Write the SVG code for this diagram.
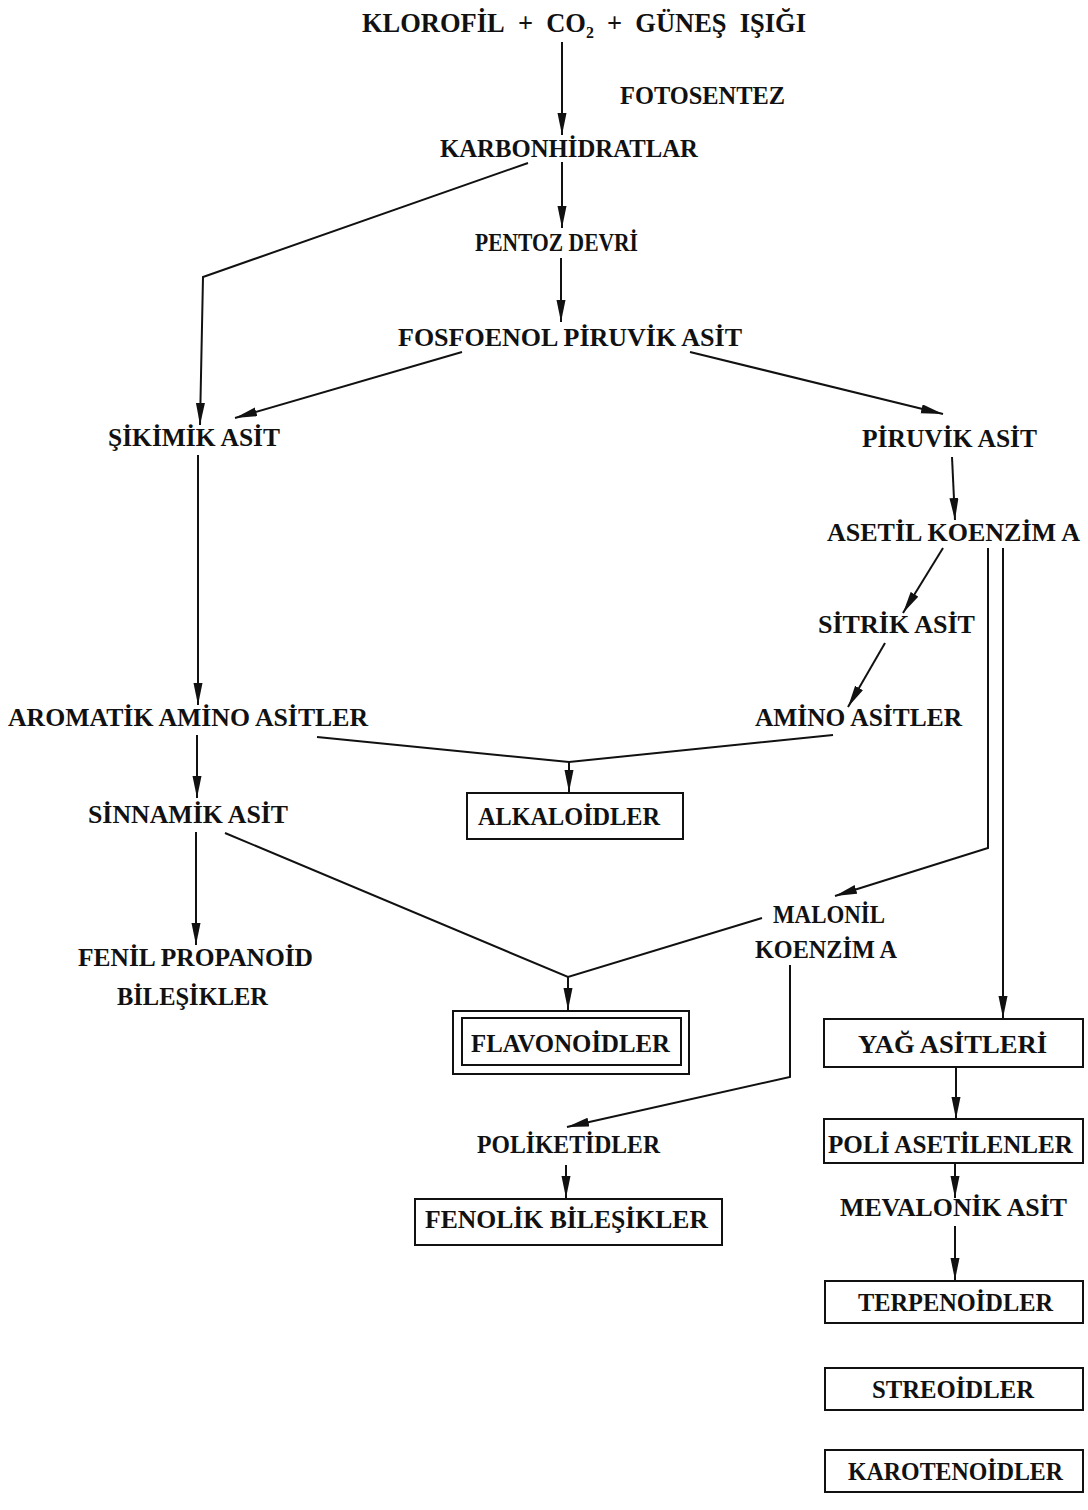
<svg xmlns="http://www.w3.org/2000/svg" width="1088" height="1510" viewBox="0 0 1088 1510">
<style>
.t{font-family:"Liberation Serif","DejaVu Serif",serif;font-weight:bold;font-size:26px;fill:#111}
.h{font-size:28px}
.box{fill:#fff;stroke:#111;stroke-width:2}
.c{fill:none;stroke:#111;stroke-width:2}
</style>
<defs>
<marker id="ar" markerUnits="userSpaceOnUse" markerWidth="24" markerHeight="10" refX="22" refY="4.5" orient="auto">
<path d="M0,0 L22,4.5 L0,9 Z" fill="#111"/>
</marker>
</defs>
<rect width="1088" height="1510" fill="#fff"/>
<g id="connectors">
<path class="c" d="M562,42 V135" marker-end="url(#ar)"/>
<path class="c" d="M562,162 V228" marker-end="url(#ar)"/>
<path class="c" d="M561,258 V322" marker-end="url(#ar)"/>
<path class="c" d="M528,163 L203,277 L200,425" marker-end="url(#ar)"/>
<path class="c" d="M462,352 L235,418" marker-end="url(#ar)"/>
<path class="c" d="M690,352 L943,414" marker-end="url(#ar)"/>
<path class="c" d="M952,457 L955,520" marker-end="url(#ar)"/>
<path class="c" d="M943,548 L903,613" marker-end="url(#ar)"/>
<path class="c" d="M885,643 L848,707" marker-end="url(#ar)"/>
<path class="c" d="M198,455 L198,705" marker-end="url(#ar)"/>
<path class="c" d="M197,735 L197,798" marker-end="url(#ar)"/>
<path class="c" d="M196,832 L196,945" marker-end="url(#ar)"/>
<path class="c" d="M317,737 L569,762 L833,735"/>
<path class="c" d="M569,762 V792" marker-end="url(#ar)"/>
<path class="c" d="M225,833 L568,977 L762,918"/>
<path class="c" d="M568,977 V1010" marker-end="url(#ar)"/>
<path class="c" d="M988,548 L988,848 L835,896" marker-end="url(#ar)"/>
<path class="c" d="M1003,548 L1003,1018" marker-end="url(#ar)"/>
<path class="c" d="M790,965 L790,1077 L567,1127" marker-end="url(#ar)"/>
<path class="c" d="M566,1165 V1198" marker-end="url(#ar)"/>
<path class="c" d="M956,1068 V1119" marker-end="url(#ar)"/>
<path class="c" d="M955,1164 V1198" marker-end="url(#ar)"/>
<path class="c" d="M955,1226 V1280" marker-end="url(#ar)"/>
</g>
<g id="n-title">
<text class="t h" x="362" y="32" textLength="444" lengthAdjust="spacingAndGlyphs">KLOROFİL&#160;&#160;+&#160;&#160;CO₂&#160;&#160;+&#160;&#160;GÜNEŞ&#160;&#160;IŞIĞI</text>
</g>
<g id="n-fotosentez"><text class="t" x="620" y="104" textLength="165" lengthAdjust="spacingAndGlyphs">FOTOSENTEZ</text></g>
<g id="n-karbonhidratlar"><text class="t" x="440" y="157" textLength="258" lengthAdjust="spacingAndGlyphs">KARBONHİDRATLAR</text></g>
<g id="n-pentoz"><text class="t" x="475" y="251" textLength="163" lengthAdjust="spacingAndGlyphs">PENTOZ DEVRİ</text></g>
<g id="n-fosfoenol"><text class="t" x="398" y="346" textLength="344" lengthAdjust="spacingAndGlyphs">FOSFOENOL PİRUVİK ASİT</text></g>
<g id="n-sikimik"><text class="t" x="108" y="446" textLength="172" lengthAdjust="spacingAndGlyphs">ŞİKİMİK ASİT</text></g>
<g id="n-piruvik"><text class="t" x="862" y="447" textLength="175" lengthAdjust="spacingAndGlyphs">PİRUVİK ASİT</text></g>
<g id="n-asetil"><text class="t" x="827" y="541" textLength="253" lengthAdjust="spacingAndGlyphs">ASETİL KOENZİM A</text></g>
<g id="n-sitrik"><text class="t" x="818" y="633" textLength="157" lengthAdjust="spacingAndGlyphs">SİTRİK ASİT</text></g>
<g id="n-aromatik"><text class="t" x="8" y="726" textLength="360" lengthAdjust="spacingAndGlyphs">AROMATİK AMİNO ASİTLER</text></g>
<g id="n-amino"><text class="t" x="755" y="726" textLength="207" lengthAdjust="spacingAndGlyphs">AMİNO ASİTLER</text></g>
<g id="n-sinnamik"><text class="t" x="88" y="823" textLength="200" lengthAdjust="spacingAndGlyphs">SİNNAMİK ASİT</text></g>
<g id="n-alkaloidler"><rect class="box" x="467" y="793" width="216" height="46"/><text class="t" x="478" y="825" textLength="182" lengthAdjust="spacingAndGlyphs">ALKALOİDLER</text></g>
<g id="n-malonil"><text class="t" x="773" y="923" textLength="112" lengthAdjust="spacingAndGlyphs">MALONİL</text><text class="t" x="755" y="958" textLength="142" lengthAdjust="spacingAndGlyphs">KOENZİM A</text></g>
<g id="n-fenil"><text class="t" x="78" y="966" textLength="235" lengthAdjust="spacingAndGlyphs">FENİL PROPANOİD</text><text class="t" x="117" y="1005" textLength="151" lengthAdjust="spacingAndGlyphs">BİLEŞİKLER</text></g>
<g id="n-flavonoidler"><rect class="box" x="453" y="1011" width="236" height="63"/><rect class="box" x="462" y="1018" width="219" height="47"/><text class="t" x="471" y="1052" textLength="199" lengthAdjust="spacingAndGlyphs">FLAVONOİDLER</text></g>
<g id="n-yag"><rect class="box" x="824" y="1019" width="259" height="48"/><text class="t" x="858" y="1053" textLength="189" lengthAdjust="spacingAndGlyphs">YAĞ ASİTLERİ</text></g>
<g id="n-poliketidler"><text class="t" x="477" y="1153" textLength="183" lengthAdjust="spacingAndGlyphs">POLİKETİDLER</text></g>
<g id="n-poliasetilenler"><rect class="box" x="824" y="1119" width="259" height="44"/><text class="t" x="828" y="1153" textLength="245" lengthAdjust="spacingAndGlyphs">POLİ ASETİLENLER</text></g>
<g id="n-fenolik"><rect class="box" x="415" y="1199" width="307" height="46"/><text class="t" x="425" y="1228" textLength="283" lengthAdjust="spacingAndGlyphs">FENOLİK BİLEŞİKLER</text></g>
<g id="n-mevalonik"><text class="t" x="840" y="1216" textLength="227" lengthAdjust="spacingAndGlyphs">MEVALONİK ASİT</text></g>
<g id="n-terpenoidler"><rect class="box" x="825" y="1281" width="258" height="42"/><text class="t" x="858" y="1311" textLength="195" lengthAdjust="spacingAndGlyphs">TERPENOİDLER</text></g>
<g id="n-streoidler"><rect class="box" x="825" y="1368" width="258" height="42"/><text class="t" x="872" y="1398" textLength="162" lengthAdjust="spacingAndGlyphs">STREOİDLER</text></g>
<g id="n-karotenoidler"><rect class="box" x="825" y="1450" width="258" height="42"/><text class="t" x="848" y="1480" textLength="215" lengthAdjust="spacingAndGlyphs">KAROTENOİDLER</text></g>
</svg>
